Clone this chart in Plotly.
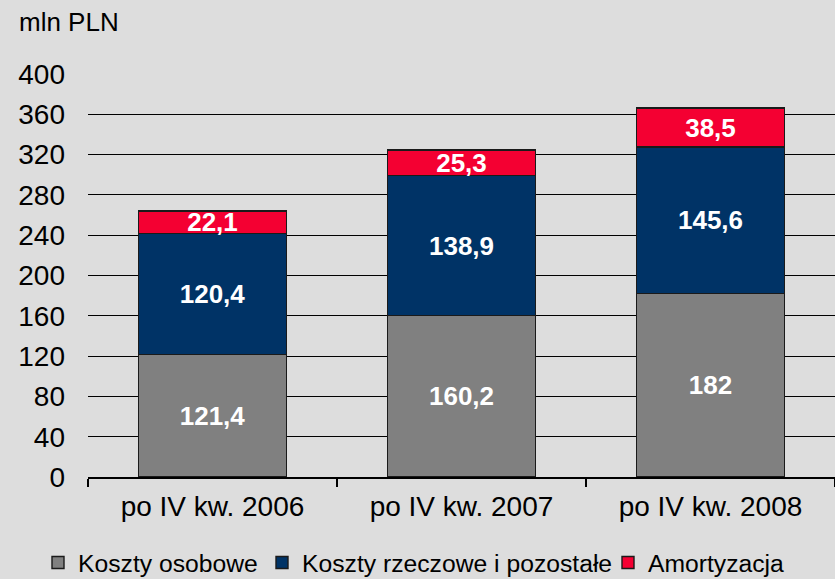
import plotly.graph_objects as go

categories = ["po IV kw. 2006", "po IV kw. 2007", "po IV kw. 2008"]
osobowe = [121.4, 160.2, 182.0]
rzeczowe = [120.4, 138.9, 145.6]
amortyzacja = [22.1, 25.3, 38.5]
osobowe_lbl = ["121,4", "160,2", "182"]
rzeczowe_lbl = ["120,4", "138,9", "145,6"]
amort_lbl = ["22,1", "25,3", "38,5"]
y_ticks = list(range(0, 401, 40))

FONT = "Liberation Sans, Arial, sans-serif"
W, H = 835, 579
series = [
    ("Koszty osobowe", osobowe, osobowe_lbl, "#808080", "legend", 78),
    ("Koszty rzeczowe i pozostałe", rzeczowe, rzeczowe_lbl, "#003366", "legend2", 302),
    ("Amortyzacja", amortyzacja, amort_lbl, "#F40032", "legend3", 648),
]

fig = go.Figure()
legends = {}
for name, vals, lbls, col, lg, tx in series:
    fig.add_trace(go.Bar(
        name=name, x=categories, y=vals, text=lbls, legend=lg,
        textposition="inside", insidetextanchor="middle", textangle=0,
        constraintext="none",
        textfont=dict(family=FONT, size=26, color="white", weight="bold"),
        marker=dict(color=col, line=dict(color="#1a1a1a", width=1.4)),
        hoverinfo="skip",
    ))
    legends[lg] = dict(orientation="h", xref="container", yref="container",
                       x=(tx - 40) / W, xanchor="left", y=1 - 563 / H, yanchor="middle",
                       font=dict(size=24.7), itemwidth=30,
                       bgcolor="rgba(0,0,0,0)", borderwidth=0)

fig.update_layout(
    barmode="stack", bargap=0.405,
    width=W, height=H,
    margin=dict(l=88, r=0, t=74, b=102, autoexpand=False),
    paper_bgcolor="#DDDDDD", plot_bgcolor="#DDDDDD",
    font=dict(family=FONT, size=28, color="black"),
    showlegend=True,
    annotations=[dict(text="mln PLN", xref="paper", yref="paper",
                      x=(17 - 88) / 747, xanchor="left", y=(477 - 22) / 403, yanchor="middle",
                      showarrow=False, font=dict(size=26))],
    **legends,
)
fig.update_yaxes(range=[0, 400], tickvals=y_ticks, showgrid=True,
                 gridcolor="black", gridwidth=1, zeroline=False,
                 showline=False, ticks="", ticklabelstandoff=22,
                 tickfont=dict(size=28), automargin=False)
fig.update_xaxes(showline=True, linecolor="black", linewidth=1.5,
                 ticks="outside", tickson="boundaries", ticklen=8,
                 tickcolor="black", tickwidth=1.5, ticklabelstandoff=4,
                 tickfont=dict(size=28), automargin=False)

fig.write_html("out.html", config={"displayModeBar": False},
               post_script="document.body.style.margin='0';")
